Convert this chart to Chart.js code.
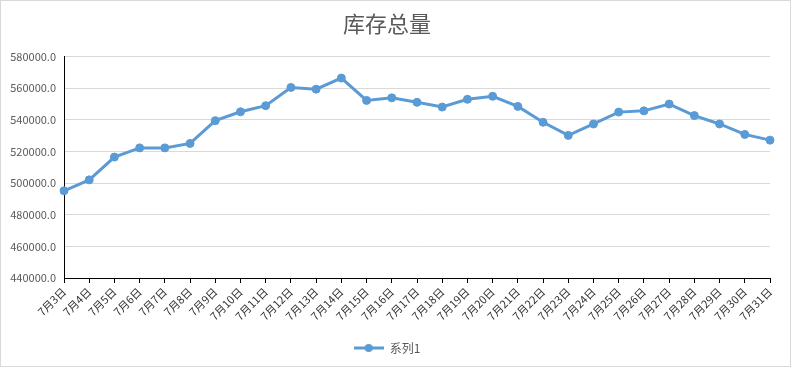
<!DOCTYPE html>
<html>
<head>
<meta charset="utf-8">
<script src="https://cdn.jsdelivr.net/npm/chart.js@4"></script>
<style>
html,body{margin:0;padding:0;background:#fff;}
canvas{display:block;}
</style>
</head>
<body>
<canvas id="c" width="793" height="368"></canvas>
<script>
const categories = ["7月3日","7月4日","7月5日","7月6日","7月7日","7月8日","7月9日","7月10日","7月11日","7月12日","7月13日","7月14日","7月15日","7月16日","7月17日","7月18日","7月19日","7月20日","7月21日","7月22日","7月23日","7月24日","7月25日","7月26日","7月27日","7月28日","7月29日","7月30日","7月31日"];
const seriesName = "系列1";
const values = [495100,502000,516400,522200,522200,525000,539400,545000,548900,560400,559300,566300,552200,553800,551000,548000,552900,554800,548400,538400,530100,537300,544800,545600,549900,542600,537300,530700,527100];
const titleText = "库存总量";
const yMin = 440000, yMax = 580000, yStep = 20000;

const FONT = "'Noto Sans CJK SC', 'Noto Sans', sans-serif";
const BLUE = "#5B9BD5";

// legend marker: line with dot
const mk = document.createElement('canvas');
mk.width = 30; mk.height = 10;
(function(){
  const g = mk.getContext('2d');
  g.strokeStyle = BLUE; g.lineWidth = 3;
  g.beginPath(); g.moveTo(0,5); g.lineTo(30,5); g.stroke();
  g.fillStyle = BLUE; g.beginPath(); g.arc(15,5,4,0,Math.PI*2); g.fill();
})();

const borderPlugin = {
  id: 'outerBorder',
  beforeDraw(chart) {
    const ctx = chart.ctx;
    ctx.save();
    ctx.fillStyle = '#fff';
    ctx.fillRect(0,0,chart.width,chart.height);
    ctx.strokeStyle = '#d9d9d9';
    ctx.lineWidth = 1;
    ctx.strokeRect(0.5,0.5,790,366);
    ctx.restore();
  }
};

new Chart(document.getElementById('c'), {
  type: 'line',
  data: {
    labels: categories,
    datasets: [{
      label: seriesName,
      data: values,
      borderColor: BLUE,
      backgroundColor: BLUE,
      borderWidth: 3,
      pointStyle: 'circle',
      pointRadius: 4,
      pointHoverRadius: 4,
      pointBackgroundColor: BLUE,
      pointBorderColor: BLUE,
      pointBorderWidth: 1,
      tension: 0,
      fill: false
    }]
  },
  options: {
    responsive: false,
    animation: false,
    events: [],
    layout: { padding: { left: 4, right: 23, top: 0, bottom: 4 } },
    plugins: {
      tooltip: { enabled: false },
      title: {
        display: true,
        text: titleText,
        color: '#595959',
        font: { family: FONT, size: 22, weight: 'normal' },
        padding: { top: 10, bottom: 20 }
      },
      legend: {
        display: true,
        position: 'bottom',
        labels: {
          usePointStyle: true,
          pointStyleWidth: 30,
          boxHeight: 10,
          color: '#595959',
          font: { family: FONT, size: 12 },
          padding: 6,
          generateLabels(chart) {
            return [{
              text: seriesName,
              pointStyle: mk,
              fillStyle: BLUE,
              strokeStyle: BLUE,
              lineWidth: 0,
              datasetIndex: 0,
              hidden: false,
              fontColor: '#595959'
            }];
          }
        }
      }
    },
    scales: {
      x: {
        offset: false,
        grid: {
          display: true,
          drawOnChartArea: false,
          drawTicks: true,
          tickLength: 5,
          color: '#000'
        },
        border: { display: true, color: '#000', width: 1 },
        ticks: {
          autoSkip: false,
          minRotation: 45,
          maxRotation: 45,
          color: '#333',
          font: { family: FONT, size: 11 },
          padding: 2
        },
        afterFit(scale) { scale.height = 58; }
      },
      y: {
        min: yMin,
        max: yMax,
        grid: {
          color: '#d9d9d9',
          drawTicks: false,
          lineWidth: 1
        },
        border: { display: true, color: '#000', width: 1 },
        ticks: {
          stepSize: yStep,
          color: '#595959',
          font: { family: FONT, size: 11 },
          padding: 8,
          callback: v => Number(v).toFixed(1)
        },
        afterFit(scale) { scale.width = 60; }
      }
    }
  },
  plugins: [borderPlugin]
});
</script>
</body>
</html>
